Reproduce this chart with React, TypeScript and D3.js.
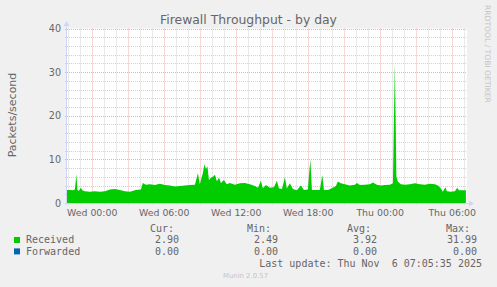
import React from "react";
import * as d3 from "d3";

// hours relative to Wed 00:00
const hours = [
  -2.11, -1.86, -1.61, -1.44, -1.32, -1.23, -1.11, -0.94, -0.82, -0.61, -0.19, 0.22, 0.64, 1.06, 1.48,
  1.89, 2.31, 2.72, 3.14, 3.64, 4.06, 4.22, 4.47, 4.81, 5.22, 5.64, 6.06, 6.47, 6.89, 7.31, 7.72, 8.14,
  8.56, 8.81, 8.97, 9.23, 9.35, 9.48, 9.6, 9.73, 9.89, 10.06, 10.23, 10.39, 10.56, 10.73, 10.97, 11.22,
  11.47, 11.89, 12.31, 12.72, 13.14, 13.56, 13.81, 14.06, 14.22, 14.47, 14.81, 15.14, 15.39, 15.56,
  15.81, 16.06, 16.22, 16.47, 16.72, 17.06, 17.39, 17.64, 17.97, 18.18, 18.31, 18.64, 18.97, 19.18,
  19.31, 19.64, 19.97, 20.31, 20.47, 20.72, 21.06, 21.47, 21.89, 22.06, 22.31, 22.72, 23.14, 23.39,
  23.72, 24.06, 24.39, 24.81, 25.06, 25.22, 25.35, 25.47, 25.72, 26.06, 26.47, 26.89, 27.31, 27.72,
  28.14, 28.56, 28.81, 29.06, 29.22, 29.43, 29.56, 29.89, 30.22, 30.43, 30.56, 30.89, 31.14,
];
const received = [
  3.0, 3.0, 2.9, 3.1, 6.6, 3.0, 2.8, 3.5, 2.9, 2.7, 2.6, 2.7, 2.6, 2.7, 3.1,
  3.2, 3.0, 2.7, 2.6, 3.0, 3.1, 4.6, 4.2, 4.3, 4.1, 4.4, 4.1, 4.0, 3.8, 3.9, 4.0, 4.1,
  4.2, 6.8, 4.3, 7.0, 8.9, 7.8, 8.4, 5.2, 5.8, 6.0, 6.5, 5.0, 5.8, 4.6, 5.3, 4.3,
  4.6, 4.2, 4.5, 4.6, 4.3, 3.9, 3.5, 5.1, 3.4, 4.1, 3.5, 3.6, 5.1, 3.4,
  3.2, 5.9, 3.3, 4.5, 3.2, 2.9, 4.0, 3.0, 3.1, 10.0, 3.0, 3.0, 3.0, 6.4,
  3.0, 3.0, 3.4, 3.9, 4.9, 4.5, 4.3, 4.0, 4.2, 4.6, 4.1, 4.2, 4.3, 4.7,
  4.2, 4.0, 4.1, 4.2, 4.5, 31.99, 6.0, 4.9, 4.3, 4.2, 4.3, 4.5, 4.3, 4.2,
  4.4, 4.3, 4.0, 3.3, 2.6, 3.6, 2.7, 2.6, 2.7, 3.5, 2.9, 2.9, 2.9,
];

const xTickHours = [0, 6, 12, 18, 24, 30];
const xTickLabels = ["Wed 00:00", "Wed 06:00", "Wed 12:00", "Wed 18:00", "Thu 00:00", "Thu 06:00"];
const yTicks = [0, 10, 20, 30, 40];

const legendNames = ["Received", "Forwarded"];
const legendColors = ["#00CC00", "#0066B3"];
const curVals = ["2.90", "0.00"];
const minVals = ["2.49", "0.00"];
const avgVals = ["3.92", "0.00"];
const maxVals = ["31.99", "0.00"];

export default function App() {
  const left = 67, right = 467, top = 28.5, bottom = 203;
  const x = d3.scaleLinear().domain([-2.1, 31.233]).range([left, right]);
  const y = d3.scaleLinear().domain([0, 40]).range([bottom, top]);

  const data = hours.map((h, i) => ({ h, v: received[i] }));
  const area = d3.area<{ h: number; v: number }>()
    .x(d => x(d.h)).y0(y(0)).y1(d => y(d.v)).curve(d3.curveLinear);

  const minorH = d3.range(-2, 32, 1).filter(h => x(h) >= left && x(h) <= right);
  const majorH = minorH.filter(h => h % 3 === 0);
  const minorY = d3.range(0, 41, 2);

  const font = "'DejaVu Sans', sans-serif";
  const mono = "'DejaVu Sans Mono', monospace";
  const fc = "#666666";
  const minorC = "#d2d2d2";
  const majorC = "#f0b0b0";

  return (
    <svg width={497} height={287} style={{ position: "absolute", left: 0, top: 0, background: "#F0F0F0" }}>
      <rect x={0} y={0} width={497} height={287} fill="#F0F0F0" />
      <rect x={left} y={top} width={right - left} height={bottom - top} fill="#FFFFFF" />
      {/* minor grid */}
      {minorH.filter(h => h % 3 !== 0).map(h => (
        <line key={"vx" + h} x1={Math.round(x(h)) + 0.5} x2={Math.round(x(h)) + 0.5} y1={top} y2={bottom + 2}
          stroke={minorC} strokeDasharray="1,1" />
      ))}
      {minorY.filter(v => v % 10 !== 0).map(v => (
        <line key={"hy" + v} x1={left - 2} x2={right} y1={Math.round(y(v)) + 0.5} y2={Math.round(y(v)) + 0.5}
          stroke={minorC} strokeDasharray="1,1" />
      ))}
      {/* major grid */}
      {majorH.map(h => (
        <line key={"mx" + h} x1={Math.round(x(h)) + 0.5} x2={Math.round(x(h)) + 0.5} y1={top} y2={bottom + 2}
          stroke={majorC} strokeDasharray="1,1" />
      ))}
      {yTicks.filter(v => v > 0).map(v => (
        <line key={"my" + v} x1={left - 2} x2={right} y1={Math.round(y(v)) + 0.5} y2={Math.round(y(v)) + 0.5}
          stroke={majorC} strokeDasharray="1,1" />
      ))}
      {/* data */}
      <path d={area(data) || ""} fill="#00CC00" />
      {/* axes */}
      <line x1={left - 0.5} x2={left - 0.5} y1={bottom + 2} y2={23} stroke="#CFD6F8" />
      <path d={`M${left - 3.5},26 L${left - 0.5},21 L${left + 2.5},26 Z`} fill="#CFD6F8" />
      <line x1={left - 2} x2={471} y1={bottom + 0.5} y2={bottom + 0.5} stroke="#CFD6F8" />
      <path d={`M469,${bottom - 2.5} L474,${bottom + 0.5} L469,${bottom + 3.5} Z`} fill="#CFD6F8" />
      {/* y tick labels */}
      {yTicks.map(v => (
        <text key={"yl" + v} x={61} y={y(v) + 3.5} textAnchor="end" fontFamily={font} fontSize={9.6} fill={fc}>{v}</text>
      ))}
      {/* x tick labels */}
      {xTickHours.map((h, i) => (
        <text key={"xl" + h} x={x(h)} y={215.5} textAnchor="middle" fontFamily={font} fontSize={9.4} fill={fc}>{xTickLabels[i]}</text>
      ))}
      {/* title */}
      <text x={248.5} y={24} textAnchor="middle" fontFamily={font} fontSize={12.4} fill={fc}>Firewall Throughput - by day</text>
      <text transform="translate(15.5,115) rotate(-90)" textAnchor="middle" fontFamily={font} fontSize={11} fill={fc}>Packets/second</text>
      <text transform="translate(484.5,5) rotate(90)" textAnchor="start" fontFamily={font} fontSize={7.6} fill="#c4c4c4">RRDTOOL / TOBI OETIKER</text>
      {/* legend */}
      <g fontFamily={mono} fontSize={10} fill={fc}>
        <text x={150} y={231.7}>Cur:</text>
        <text x={247} y={231.7}>Min:</text>
        <text x={347} y={231.7}>Avg:</text>
        <text x={446} y={231.7}>Max:</text>
        {legendNames.map((n, i) => (
          <g key={n}>
            <rect x={14} y={237 + i * 11.4} width={6} height={6} fill={legendColors[i]} />
            <text x={26} y={243.3 + i * 11.4}>{n}</text>
            <text x={179} y={243.3 + i * 11.4} textAnchor="end">{curVals[i]}</text>
            <text x={278} y={243.3 + i * 11.4} textAnchor="end">{minVals[i]}</text>
            <text x={377} y={243.3 + i * 11.4} textAnchor="end">{avgVals[i]}</text>
            <text x={477} y={243.3 + i * 11.4} textAnchor="end">{maxVals[i]}</text>
          </g>
        ))}
        <text x={482} y={266.5} textAnchor="end" style={{ whiteSpace: "pre" }}>{"Last update: Thu Nov  6 07:05:35 2025"}</text>
      </g>
      <text x={245.5} y={278} textAnchor="middle" fontFamily={font} fontSize={6.9} fill="#c4c4c4">Munin 2.0.57</text>
    </svg>
  );
}
